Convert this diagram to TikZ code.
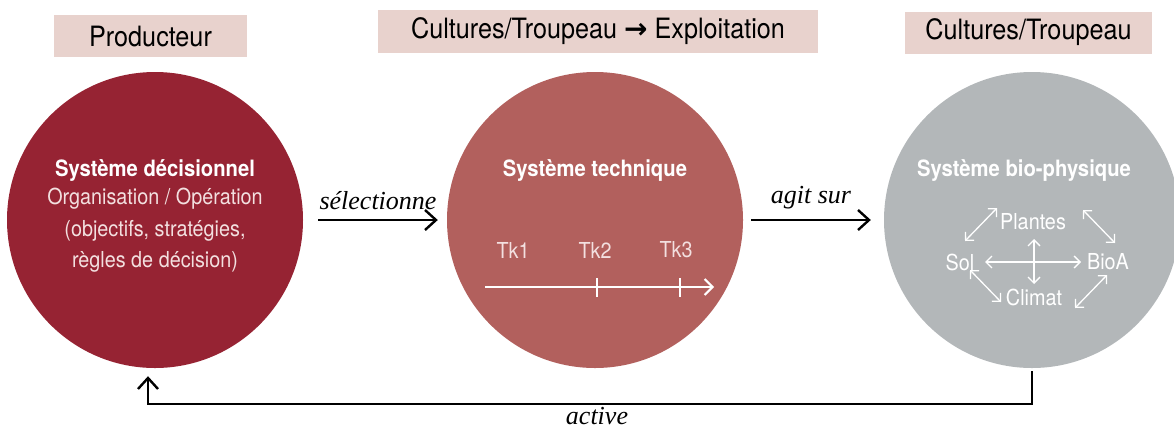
\documentclass[tikz,border=0pt]{standalone}
\usepackage{fontspec}
\setmainfont{TeX Gyre Heros}[FakeStretch=0.9]
\newfontfamily\hand{Liberation Serif}
\newfontfamily\sym{DejaVu Sans}
\usetikzlibrary{arrows.meta,positioning}
\definecolor{cdec}{RGB}{150,35,51}
\definecolor{ctech}{RGB}{178,96,93}
\definecolor{cbio}{RGB}{179,183,185}
\definecolor{cbox}{RGB}{232,210,205}
\definecolor{ctxt}{RGB}{243,224,224}
\tikzset{
  sys/.style={circle,minimum size=296pt,inner sep=0pt},
  lab/.style={fill=cbox,font=\fontsize{28}{30}\selectfont,inner sep=0pt,anchor=center},
  ttl/.style={text=white,font=\fontsize{22.5}{26}\selectfont\bfseries},
  body/.style={text=ctxt,font=\fontsize{22}{31.5}\selectfont,align=center},
  wt/.style={text=white,font=\fontsize{22}{26}\selectfont,inner sep=0pt},
  flow/.style={line width=2.4pt,-{Straight Barb[length=11pt,width=20pt,line width=2.4pt]}},
  hw/.style={font=\hand\itshape\fontsize{26}{28}\selectfont},
  wa/.style={white,line width=1.3pt,{Straight Barb[length=6pt,width=12pt]}-{Straight Barb[length=6pt,width=12pt]}},
  axis/.style={white,line width=2pt,-{Straight Barb[length=8pt,width=16pt,line width=2pt]}}
}
\begin{document}
\begin{tikzpicture}[x=1pt,y=-1pt]
\useasboundingbox (0,0) rectangle (1174,432);
% label boxes
\node[lab,minimum width=193pt,minimum height=42pt] (lprod) at (150.5,36) {Producteur};
\node[lab,minimum width=440pt,minimum height=43pt] (ltech) at (598,31.5) {Cultures/Troupeau {\sym\bfseries →} Exploitation};
\node[lab,minimum width=247pt,minimum height=42pt] (lbio) at (1028.5,32.5) {Cultures/Troupeau};
% circles
\node[sys,fill=cdec] (dec) at (155,220) {};
\node[sys,fill=ctech] (tech) at (595,220) {};
\node[sys,fill=cbio] (bio) at (1032,220) {};
% decision text
\node[ttl] (tdec) at (155,170) {Système décisionnel};
\node[body,anchor=north] (bdec) at (155,185) {Organisation / Opération\\(objectifs, stratégies,\\règles de décision)};
% technique
\node[ttl] (ttech) at (595,170) {Système technique};
\node[wt,text=ctxt] (tk1) at (513,250) {Tk1};
\node[wt,text=ctxt] (tk2) at (595,250) {Tk2};
\node[wt,text=ctxt] (tk3) at (676,250) {Tk3};
\coordinate (ax0) at (485,287);
\coordinate (ax1) at (714,287);
\draw[axis] (ax0) -- (ax1);
\draw[white,line width=2pt] (597,278) -- (597,297) (680,278) -- (680,297);
% bio-physique
\node[ttl] (tbio) at (1024,170) {Système bio-physique};
\node[wt] (pl) at (1033,222) {Plantes};
\node[wt] (sol) at (960,262) {Sol};
\node[wt] (bioa) at (1108,262) {BioA};
\node[wt] (cl) at (1034,297) {Climat};
\coordinate (h0) at (985,262);
\coordinate (h1) at (1081,262);
\coordinate (v0) at (1034,239);
\coordinate (v1) at (1034,284);
\draw[wa] (h0) -- (h1);
\draw[wa] (v0) -- (v1);
\draw[wa] (965,241) -- (997,208);
\draw[wa] (1083,210) -- (1115,243);
\draw[wa] (970,270) -- (1001,302);
\draw[wa] (1075,308) -- (1107,275);
% connectors
\draw[flow] ([xshift=15pt]dec.east) -- node[hw,above=6pt] (sel) {sélectionne} ([xshift=-9pt]tech.west);
\draw[flow] ([xshift=8pt]tech.east) -- node[hw,above=6pt] (agit) {agit sur} ([xshift=-13pt]bio.west);
\coordinate (act) at (590,404);
\draw[flow] ([yshift=-3pt]bio.south) |- (act) -| ([xshift=-7pt,yshift=-8pt]dec.south);
\node[hw] (lact) at (597,416) {active};
\end{tikzpicture}
\end{document}
